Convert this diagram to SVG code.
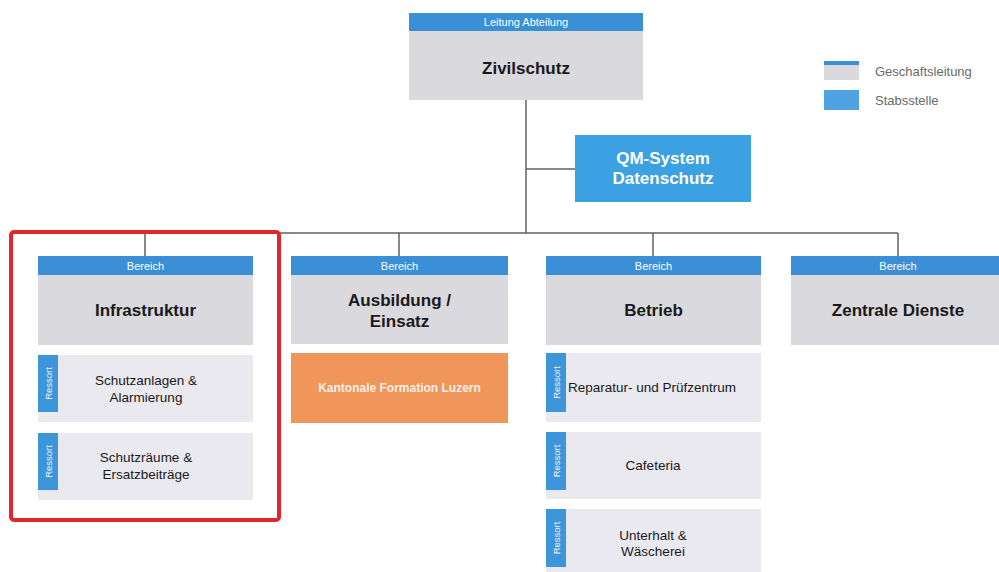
<svg xmlns="http://www.w3.org/2000/svg" width="999" height="572" viewBox="0 0 999 572">
  <style>
    .hdr { fill: #3b8fd6; }
    .body { fill: #d9d9de; }
    .res { fill: #e9e9ef; }
    .tab { fill: #3d95da; }
    .hdrtxt { font-family: "Liberation Sans", Arial, sans-serif; font-size: 11px; fill: #ffffff; text-anchor: middle; }
    .title { font-family: "Liberation Sans", Arial, sans-serif; font-size: 17px; font-weight: bold; fill: #1a1a1a; text-anchor: middle; }
    .restxt { font-family: "Liberation Sans", Arial, sans-serif; font-size: 13.5px; fill: #1a1a1a; text-anchor: middle; }
    .tabtxt { font-family: "Liberation Sans", Arial, sans-serif; font-size: 9.5px; fill: #f2f2f2; text-anchor: middle; }
    .legtxt { font-family: "Liberation Sans", Arial, sans-serif; font-size: 13px; fill: #6a6a6a; }
    .conn { stroke: #5f5f66; stroke-width: 1.5; fill: none; }
  </style>

  <rect width="999" height="572" fill="#ffffff"/>

  <!-- connectors -->
  <g id="connectors">
    <line class="conn" x1="526" y1="100" x2="526" y2="233"/>
    <line class="conn" x1="526" y1="169" x2="575" y2="169"/>
    <line class="conn" x1="145" y1="233" x2="898" y2="233"/>
    <line class="conn" x1="145" y1="233" x2="145" y2="256"/>
    <line class="conn" x1="399" y1="233" x2="399" y2="256"/>
    <line class="conn" x1="653" y1="233" x2="653" y2="256"/>
    <line class="conn" x1="898" y1="233" x2="898" y2="256"/>
  </g>

  <!-- legend -->
  <g id="legend">
    <rect x="824" y="61" width="35" height="19" class="body"/>
    <rect x="824" y="61" width="35" height="4" class="hdr"/>
    <text x="875" y="76" class="legtxt">Geschaftsleitung</text>
    <rect x="824" y="90" width="35" height="20" fill="#4fa3e4"/>
    <text x="875" y="105" class="legtxt">Stabsstelle</text>
  </g>

  <!-- head of department -->
  <g id="zivilschutz">
    <rect x="409" y="31" width="234" height="69" class="body"/>
    <rect x="409" y="13" width="234" height="18" class="hdr"/>
    <text x="526" y="26" class="hdrtxt">Leitung Abteilung</text>
    <text x="526" y="74" class="title">Zivilschutz</text>
  </g>

  <!-- staff unit -->
  <g id="qm-system">
    <rect x="575" y="135" width="176" height="67" fill="#3ba1e2"/>
    <text x="663" y="164" class="title" style="fill:#ffffff">QM-System</text>
    <text x="663" y="184" class="title" style="fill:#ffffff">Datenschutz</text>
  </g>

  <!-- Bereich: Infrastruktur -->
  <g id="infrastruktur">
    <rect x="38" y="275" width="215" height="70" class="body"/>
    <rect x="38" y="256" width="215" height="19" class="hdr"/>
    <text x="145.5" y="269.5" class="hdrtxt">Bereich</text>
    <text x="145.5" y="316" class="title">Infrastruktur</text>
  </g>
  <g id="schutzanlagen">
    <rect x="38" y="355" width="215" height="67" class="res"/>
    <rect x="38" y="355" width="20" height="57" class="tab"/>
    <text transform="translate(51.5 383.5) rotate(-90)" class="tabtxt">Ressort</text>
    <text x="146" y="385" class="restxt">Schutzanlagen &amp;</text>
    <text x="146" y="402" class="restxt">Alarmierung</text>
  </g>
  <g id="schutzraeume">
    <rect x="38" y="433" width="215" height="67" class="res"/>
    <rect x="38" y="433" width="20" height="57" class="tab"/>
    <text transform="translate(51.5 461.5) rotate(-90)" class="tabtxt">Ressort</text>
    <text x="146" y="462" class="restxt">Schutzräume &amp;</text>
    <text x="146" y="479" class="restxt">Ersatzbeiträge</text>
  </g>
  <!-- highlight frame -->
  <rect id="highlight" x="11" y="232" width="268" height="288" rx="3" fill="none" stroke="#e3262b" stroke-width="4"/>

  <!-- Bereich: Ausbildung / Einsatz -->
  <g id="ausbildung">
    <rect x="291" y="275" width="217" height="69" class="body"/>
    <rect x="291" y="256" width="217" height="19" class="hdr"/>
    <text x="399.5" y="269.5" class="hdrtxt">Bereich</text>
    <text x="399.5" y="306" class="title">Ausbildung /</text>
    <text x="399.5" y="327" class="title">Einsatz</text>
  </g>
  <g id="kantonale-formation">
    <rect x="291" y="353" width="217" height="70" fill="#f0965b"/>
    <text x="399.5" y="392" class="title" style="fill:#fdf0e8;font-size:12px">Kantonale Formation Luzern</text>
  </g>

  <!-- Bereich: Betrieb -->
  <g id="betrieb">
    <rect x="546" y="275" width="215" height="70" class="body"/>
    <rect x="546" y="256" width="215" height="19" class="hdr"/>
    <text x="653.5" y="269.5" class="hdrtxt">Bereich</text>
    <text x="653.5" y="316" class="title">Betrieb</text>
  </g>
  <g id="reparatur">
    <rect x="546" y="353" width="215" height="69" class="res"/>
    <rect x="546" y="353" width="20" height="59" class="tab"/>
    <text transform="translate(559.5 382.5) rotate(-90)" class="tabtxt">Ressort</text>
    <text x="568" y="392" class="restxt" style="text-anchor:start">Reparatur- und Prüfzentrum</text>
  </g>
  <g id="cafeteria">
    <rect x="546" y="432" width="215" height="67" class="res"/>
    <rect x="546" y="432" width="20" height="58" class="tab"/>
    <text transform="translate(559.5 461) rotate(-90)" class="tabtxt">Ressort</text>
    <text x="653" y="470" class="restxt">Cafeteria</text>
  </g>
  <g id="unterhalt">
    <rect x="546" y="509" width="215" height="63" class="res"/>
    <rect x="546" y="509" width="20" height="58" class="tab"/>
    <text transform="translate(559.5 538) rotate(-90)" class="tabtxt">Ressort</text>
    <text x="653" y="540" class="restxt">Unterhalt &amp;</text>
    <text x="653" y="556" class="restxt">Wäscherei</text>
  </g>

  <!-- Bereich: Zentrale Dienste -->
  <g id="zentrale-dienste">
    <rect x="791" y="275" width="214" height="70" class="body"/>
    <rect x="791" y="256" width="214" height="19" class="hdr"/>
    <text x="898" y="269.5" class="hdrtxt">Bereich</text>
    <text x="898" y="316" class="title">Zentrale Dienste</text>
  </g>
</svg>
